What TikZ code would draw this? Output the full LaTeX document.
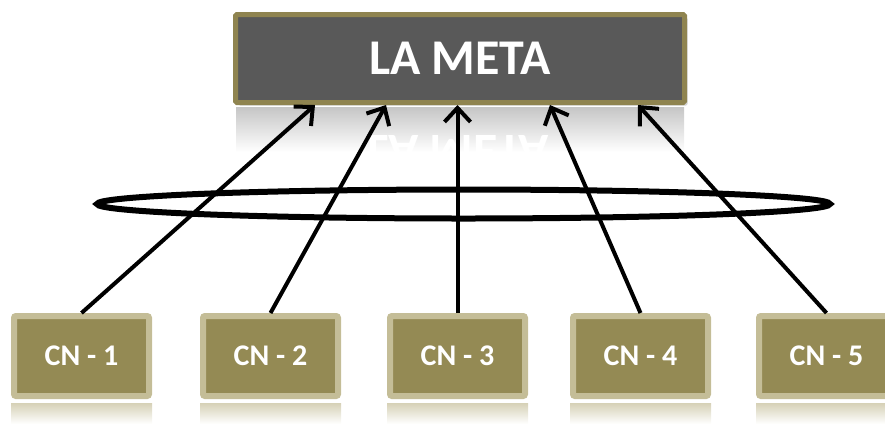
\documentclass[tikz,border=0pt]{standalone}
\usepackage{fontspec}
\setmainfont{Carlito}
\usetikzlibrary{arrows.meta,shadows,shapes.geometric}
\definecolor{cnfill}{HTML}{948A54}
\definecolor{cnframe}{HTML}{C4BD97}
\definecolor{metafill}{HTML}{595959}
\definecolor{metaframe}{HTML}{8F8450}
\begin{document}
\begin{tikzpicture}[x=1pt,y=-1pt,
  metabox/.style={draw=metaframe, fill=metafill, line width=5pt, minimum width=449pt,
    minimum height=88pt, rounded corners=1.5pt, text=white, inner sep=0pt,
    font=\bfseries\fontsize{50}{50}\selectfont,
    drop shadow={shadow xshift=3pt, shadow yshift=-3pt, opacity=0.35}},
  cnbox/.style={draw=cnframe, fill=cnfill, line width=6pt, minimum width=135pt,
    minimum height=80pt, rounded corners=2pt, text=white, inner sep=0pt,
    font=\bfseries\fontsize{30}{30}\selectfont},
  link/.style={line width=4pt, -{Straight Barb[length=14pt,width=26pt,line width=4pt]}},
  ring/.style={draw, ellipse, line width=6pt, minimum width=733pt, minimum height=29pt, inner sep=0pt},
  reflect/.style={top color=cnframe!70, bottom color=white, draw=none}]
\useasboundingbox (0,0) rectangle (885,424);
% reflections
\shade[top color=gray!45, bottom color=white] (236,107) rectangle (684,152);
\node[text=white, inner sep=0pt, font=\bfseries\fontsize{50}{50}\selectfont] (metarefl) at (458,152) {\scalebox{1}[-1]{LA META}};
\fill[white] (230,152) rectangle (690,180);
\foreach \x in {81.5,270.5,457.5,640.5,826.5}{
  \shade[reflect] (\x-70.5,403) rectangle (\x+70.5,424);
}
% boxes
\node[metabox] (meta) at (460,58.5) {LA META};
\node[cnbox] (cn1) at (81.5,356) {CN - 1};
\node[cnbox] (cn2) at (270.5,356) {CN - 2};
\node[cnbox] (cn3) at (457.5,356) {CN - 3};
\node[cnbox] (cn4) at (640.5,356) {CN - 4};
\node[cnbox] (cn5) at (826.5,356) {CN - 5};
% targets on the goal box
\coordinate (t1) at (315,105);
\coordinate (t2) at (386,105);
\coordinate (t3) at (457.5,105);
\coordinate (t4) at (550,105);
\coordinate (t5) at (638,105);
\draw[link] (cn1.north) -- (t1);
\draw[link] (cn2.north) -- (t2);
\draw[link] (cn3.north) -- (t3);
\draw[link] (cn4.north) -- (t4);
\draw[link] (cn5.north) -- (t5);
\node[ring] (loop) at (463.5,204) {};
\end{tikzpicture}
\end{document}
